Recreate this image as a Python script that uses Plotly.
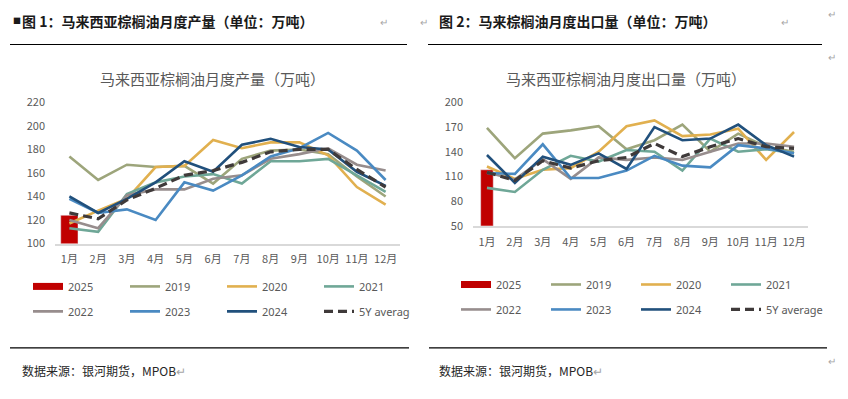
import plotly.graph_objects as go

months = ["1月", "2月", "3月", "4月", "5月", "6月", "7月", "8月", "9月", "10月", "11月", "12月"]
series_names = ["2019", "2020", "2021", "2022", "2023", "2024", "5Y average"]

# Chart 1: Malaysia palm oil monthly production (10k tonnes)
prod_2025 = [124, None, None, None, None, None, None, None, None, None, None, None]
prod_2019 = [174, 154, 167, 165, 166, 151, 172, 179, 180, 176, 157, 140]
prod_2020 = [117, 128, 138, 165, 166, 188, 181, 186, 186, 175, 148, 133]
prod_2021 = [113, 110, 142, 152, 157, 159, 151, 170, 170, 172, 158, 144]
prod_2022 = [120, 113, 141, 146, 146, 155, 158, 172, 176, 181, 167, 162]
prod_2023 = [138, 126, 129, 120, 152, 145, 158, 174, 181, 194, 179, 154]
prod_2024 = [140, 126, 138, 152, 170, 161, 184, 189, 182, 180, 161, 149]
prod_5y = [126, 121, 137, 147, 158, 162, 169, 178, 180, 180, 163, 148]

# Chart 2: Malaysia palm oil monthly exports (10k tonnes)
exp_2025 = [118, None, None, None, None, None, None, None, None, None, None, None]
exp_2019 = [169, 132, 162, 166, 171, 143, 154, 173, 140, 162, 146, 140]
exp_2020 = [122, 107, 118, 120, 140, 171, 178, 159, 161, 168, 130, 164]
exp_2021 = [96, 91, 118, 135, 128, 142, 140, 117, 156, 140, 143, 138]
exp_2022 = [115, 106, 131, 107, 133, 130, 133, 130, 140, 150, 150, 146]
exp_2023 = [114, 113, 149, 108, 108, 117, 135, 123, 121, 148, 144, 138]
exp_2024 = [136, 102, 134, 124, 138, 119, 170, 154, 156, 173, 148, 134]
exp_5y = [115, 105, 129, 120, 129, 133, 150, 134, 146, 156, 146, 144]

W, H = 848, 399
def px(x):
    return x / W
def py(y):
    return 1 - y / H

colors = ["#9DA57B", "#E1B04F", "#6FA797", "#978D8D", "#4A8AC2", "#21507C", "#3F3A3A"]
red = "#C00000"
CJK = "Noto Sans CJK SC"
grey_txt = "#595959"

fig = go.Figure()

def add_chart(xa, ya, bar_vals, line_vals, bar_width, leg_a, leg_b, avg_width):
    fig.add_trace(go.Bar(x=months, y=bar_vals, marker_color=red, width=bar_width,
                         xaxis=xa, yaxis=ya, showlegend=False, name="2025"))
    # legend entry for the 2025 bar (wide red swatch as in the source)
    fig.add_trace(go.Scatter(x=[None], y=[None], mode="lines", line=dict(color=red, width=7),
                             name="2025", xaxis=xa, yaxis=ya, legend=leg_a))
    for i, (nm, vals) in enumerate(zip(series_names, line_vals)):
        is_avg = nm == "5Y average"
        dash = "9px,5px" if is_avg else "solid"
        width = 3.2 if is_avg else 2.6
        leg = leg_a if i < 3 else leg_b
        extra = dict(legendwidth=avg_width) if is_avg else {}
        fig.add_trace(go.Scatter(x=months, y=vals, mode="lines", name=nm,
                                 line=dict(color=colors[i], width=width, dash=dash),
                                 xaxis=xa, yaxis=ya, legend=leg, **extra))

add_chart("x", "y", prod_2025,
          [prod_2019, prod_2020, prod_2021, prod_2022, prod_2023, prod_2024, prod_5y],
          0.6, "legend", "legend2", 46)
add_chart("x2", "y2", exp_2025,
          [exp_2019, exp_2020, exp_2021, exp_2022, exp_2023, exp_2024, exp_5y],
          0.45, "legend3", "legend4", 70)

axis_font = dict(family=CJK, size=11, color=grey_txt)
xcommon = dict(type="category", showgrid=False, zeroline=False, showline=True,
               linecolor="#D9D9D9", linewidth=1.5, ticks="", tickfont=axis_font,
               ticklabelstandoff=5, fixedrange=True)
ycommon = dict(showgrid=False, zeroline=False, showline=False, ticks="",
               tickfont=axis_font, ticklabelstandoff=9, fixedrange=True)

leg_font = dict(family="Noto Sans", size=11, color=grey_txt)
def legend_cfg(x, y, ew):
    return dict(orientation="h", x=x, y=y, xanchor="left", yanchor="middle",
                font=leg_font, entrywidth=ew, entrywidthmode="pixels",
                bgcolor="rgba(0,0,0,0)", borderwidth=0, itemwidth=30,
                traceorder="normal")

fig.update_layout(
    width=W, height=H, autosize=False,
    margin=dict(l=0, r=0, t=0, b=0),
    paper_bgcolor="white", plot_bgcolor="white",
    barmode="overlay",
    xaxis=dict(domain=[px(55), px(400)], anchor="y", **xcommon),
    yaxis=dict(domain=[py(244.3), py(97.3)], anchor="x", range=[100, 220],
               tick0=100, dtick=20, **ycommon),
    xaxis2=dict(domain=[px(473), px(808)], anchor="y2", **xcommon),
    yaxis2=dict(domain=[py(225.7), py(97.3)], anchor="x2", range=[50, 200],
                tick0=50, dtick=30, **ycommon),
    legend=legend_cfg(px(28), py(289), 52),
    legend2=legend_cfg(px(28), py(315), 52),
    legend3=legend_cfg(px(456), py(287), 45),
    legend4=legend_cfg(px(456), py(313), 45),
    showlegend=True,
)

annotations = []
def txt(x, y, text, size, color, bold=False, family=CJK, xanchor="left"):
    t = f"<b>{text}</b>" if bold else text
    annotations.append(dict(x=px(x), y=py(y), xref="paper", yref="paper", text=t,
                            showarrow=False, xanchor=xanchor, yanchor="middle",
                            font=dict(family=family, size=size, color=color)))

# panel headers
txt(11, 12, "■", 8, "#1A1A1A")
txt(20, 13, "图 1：马来西亚棕榈油月度产量（单位：万吨）", 14, "#1A1A1A", bold=True)
txt(437, 13, "图 2：马来棕榈油月度出口量（单位：万吨）", 14, "#1A1A1A", bold=True)
# chart titles
txt(212, 72, "马来西亚棕榈油月度产量（万吨）", 15, grey_txt, xanchor="center")
txt(626, 72, "马来西亚棕榈油月度出口量（万吨）", 15, grey_txt, xanchor="center")
# footers
foot = '数据来源：银河期货，MPOB<span style="color:#A6A6A6">↵</span>'
txt(20, 377, foot, 12, "#262626")
txt(437, 377, foot, 12, "#262626")
# paragraph marks
for (x, y) in [(378, 13), (418, 13), (779, 13), (826, 5), (826, 50), (826, 366)]:
    txt(x, y, "↵", 10, "#A6A6A6")

fig.update_layout(annotations=annotations)

shapes = []
for (x0, x1, y) in [(10, 407, 37), (428, 822, 37), (10, 409, 353), (429, 827, 353)]:
    shapes.append(dict(type="line", xref="paper", yref="paper", x0=px(x0), x1=px(x1),
                       y0=py(y), y1=py(y), line=dict(color="#000000", width=1.2)))
fig.update_layout(shapes=shapes)

fig.write_html(
    "out.html",
    config={"responsive": False, "displayModeBar": False},
    post_script="document.body.style.margin='0';document.body.style.padding='0';"
                "document.body.style.overflow='hidden';",
)
